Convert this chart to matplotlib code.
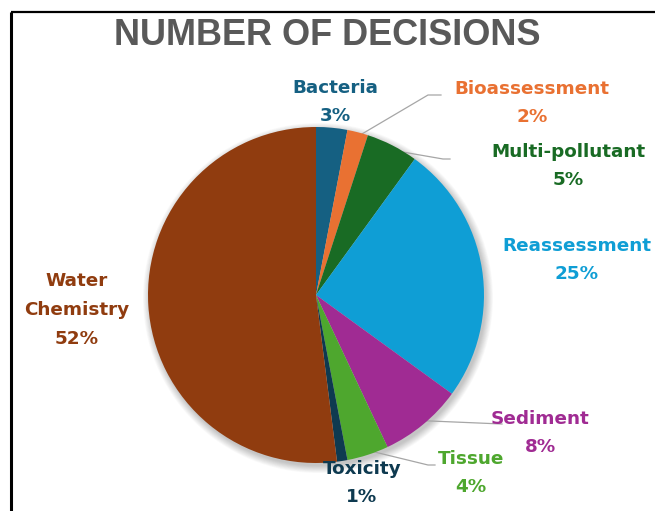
import matplotlib.pyplot as plt
import numpy as np

# chart data
categories = ['Bacteria', 'Bioassessment', 'Multi-pollutant', 'Reassessment',
              'Sediment', 'Tissue', 'Toxicity', 'Water\nChemistry']
shares = [3, 2, 5, 25, 8, 4, 1, 52]
colors = ['#156082', '#E97132', '#196B24', '#0F9ED5',
          '#A02B93', '#4EA72E', '#0E3A50', '#903C0F']

W, H = 655, 511
fig = plt.figure(figsize=(W / 100, H / 100), dpi=100)
ax = fig.add_axes([0, 0, 1, 1])

cx, cy, r = 316, H - 295, 168

# soft shadow under the pie
for i in range(10):
    ax.add_patch(plt.Circle((cx + 2, cy - 3), r + 7 - i * 0.8, color='black',
                            alpha=0.025, lw=0, zorder=0))

wedges, _ = ax.pie(shares, colors=colors, startangle=90, counterclock=False,
                   center=(cx, cy), radius=r, frame=True,
                   wedgeprops=dict(linewidth=0), normalize=True)
ax.set_xlim(0, W)
ax.set_ylim(0, H)
ax.set_aspect('equal')
ax.axis('off')

# label positions (pixel coords from top) and leader line elbows
label_pos = [(335, 102), (532, 103), (568, 166), (577, 260),
             (540, 433), (471, 473), (362, 483), (77, 310)]
elbows = {1: [(428, 95), (441, 95)], 2: [(443, 159), (450, 159)],
          4: [(502, 424), (502, 424)], 5: [(428, 465), (435, 465)]}

for i, (name, v) in enumerate(zip(categories, shares)):
    x, y = label_pos[i]
    ax.text(x, H - y, f'{name}\n{v}%', ha='center', va='center',
            fontsize=13.2, fontweight='bold', color=colors[i],
            linespacing=1.76, family='DejaVu Sans')
    if i in elbows:
        w = wedges[i]
        ang = np.deg2rad((w.theta1 + w.theta2) / 2)
        rr = r * 0.97
        px, py = cx + rr * np.cos(ang), cy + rr * np.sin(ang)
        (ex, ey), (hx, hy) = elbows[i]
        ax.plot([px, ex, hx], [py, H - ey, H - hy], color='#a6a6a6', lw=0.9,
                zorder=0.5)

ax.text(327, H - 35, 'NUMBER OF DECISIONS', ha='center', va='center',
        fontsize=26, fontweight='bold', color='#595959',
        family=['Liberation Sans', 'DejaVu Sans'])

# frame edges of the screenshot
ax.plot([11, 11], [0, H - 12], color='black', lw=2.2, solid_capstyle='butt')
ax.plot([11, W], [H - 12, H - 12], color='black', lw=1.6, solid_capstyle='butt')

fig.savefig('out.png', dpi=100)
